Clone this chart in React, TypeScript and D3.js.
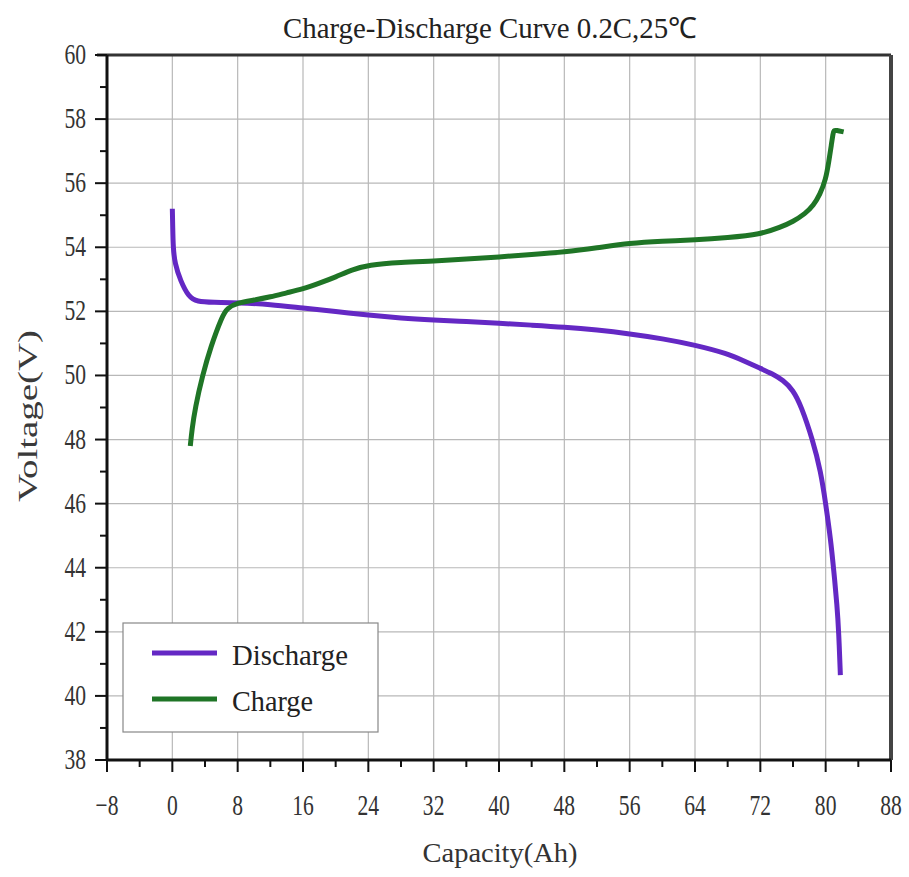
import React from "react";
import * as d3 from "d3";

const TITLE = "Charge-Discharge Curve  0.2C,25℃";
const X_LABEL = "Capacity(Ah)";
const Y_LABEL = "Voltage(V)";
const X_TICKS = [-8, 0, 8, 16, 24, 32, 40, 48, 56, 64, 72, 80, 88];
const X_MINOR = [-4, 4, 12, 20, 28, 36, 44, 52, 60, 68, 76, 84];
const Y_TICKS = [38, 40, 42, 44, 46, 48, 50, 52, 54, 56, 58, 60];
const Y_MINOR = [39, 41, 43, 45, 47, 49, 51, 53, 55, 57, 59];

const dischargeCap = [0, 0, 0.05, 0.1, 0.3, 1.0, 2.0, 3.0, 5, 8, 12, 16, 20, 24, 28, 32, 36, 40, 44, 48, 52, 56, 60, 64, 68, 70, 72, 73.5, 74.8, 76, 77, 78.4, 79.4, 80.0, 80.6, 81.0, 81.4, 81.6, 81.8, 81.8];
const dischargeV = [55.2, 55.2, 54.6, 54.0, 53.5, 52.95, 52.45, 52.3, 52.28, 52.27, 52.22, 52.1, 52.0, 51.88, 51.79, 51.73, 51.68, 51.63, 51.57, 51.51, 51.42, 51.3, 51.15, 50.95, 50.68, 50.45, 50.22, 50.05, 49.85, 49.55, 49.05, 48.0, 47.0, 46.0, 44.9, 43.9, 42.8, 42.0, 40.65, 40.65];

const chargeCap = [2.2, 2.2, 2.4, 2.8, 3.7, 4.7, 6.1, 6.7, 8, 10, 12, 14, 16, 18, 20, 22, 24, 28, 32, 36, 40, 44, 48, 52, 56, 60, 64, 68, 72, 74.5, 76, 77.5, 78.5, 79.3, 80.0, 80.4, 80.7, 80.9, 81.0, 81.3, 82.2, 82.2];
const chargeV = [47.8, 47.8, 48.3, 49.0, 50.0, 50.9, 51.85, 52.1, 52.27, 52.35, 52.45, 52.58, 52.7, 52.88, 53.07, 53.3, 53.45, 53.53, 53.57, 53.63, 53.7, 53.77, 53.85, 53.98, 54.13, 54.19, 54.23, 54.3, 54.4, 54.63, 54.8, 55.05, 55.3, 55.65, 56.1, 56.7, 57.2, 57.55, 57.65, 57.65, 57.6, 57.6];

const SERIES = ["Discharge", "Charge"];
const COLORS = ["#6428c4", "#1f7526"];

export default function App() {
  const W = 909, H = 877;
  const x = d3.scaleLinear().domain([-8, 88]).range([107, 891]);
  const y = d3.scaleLinear().domain([38, 60]).range([760, 55]);
  const line = d3
    .line<[number, number]>()
    .x((d) => x(d[0]))
    .y((d) => y(d[1]))
    .curve(d3.curveBasis);
  const dis: [number, number][] = dischargeCap.map((c, i) => [c, dischargeV[i]]);
  const chg: [number, number][] = chargeCap.map((c, i) => [c, chargeV[i]]);
  const font = "'Liberation Serif', 'Times New Roman', serif";
  const x0 = x(-8), x1 = x(88), y0 = y(38), y1 = y(60);

  return (
    <svg width={W} height={H} style={{ position: "absolute", left: 0, top: 0, background: "#fff" }} fontFamily={font}>
      <rect width={W} height={H} fill="#fff" />
      <text x={490} y={38} fontSize={29} textAnchor="middle" textLength={414} lengthAdjust="spacingAndGlyphs" fill="#222">
        {TITLE}
      </text>
      {/* grid */}
      {Y_TICKS.filter((v) => v > 38 && v < 60).map((v) => (
        <line key={"gy" + v} x1={x0} x2={x1} y1={y(v)} y2={y(v)} stroke="#b8b8b8" strokeWidth={1.2} />
      ))}
      {X_TICKS.filter((v) => v > -8 && v < 88).map((v) => (
        <line key={"gx" + v} x1={x(v)} x2={x(v)} y1={y0} y2={y1} stroke="#b8b8b8" strokeWidth={1.2} />
      ))}
      {/* frame */}
      <line x1={97} x2={x1} y1={y1} y2={y1} stroke="#333" strokeWidth={3} />
      <line x1={x1} x2={x1} y1={y1} y2={y0} stroke="#444" strokeWidth={4} />
      <line x1={x0} x2={x0} y1={y1} y2={y0 + 1} stroke="#111" strokeWidth={3} />
      <line x1={x0 - 1} x2={x1} y1={y0} y2={y0} stroke="#111" strokeWidth={3} />
      {/* y ticks */}
      {Y_TICKS.map((v) => (
        <g key={"yt" + v}>
          <line x1={95} x2={x0} y1={y(v)} y2={y(v)} stroke="#111" strokeWidth={2} />
          <text transform={`translate(86,${y(v) + 9}) scale(0.72,1)`} fontSize={30} textAnchor="end" fill="#333">
            {v}
          </text>
        </g>
      ))}
      {Y_MINOR.map((v) => (
        <line key={"ym" + v} x1={100} x2={x0} y1={y(v)} y2={y(v)} stroke="#111" strokeWidth={2} />
      ))}
      {/* x ticks */}
      {X_TICKS.map((v) => (
        <g key={"xt" + v}>
          <line x1={x(v)} x2={x(v)} y1={y0} y2={y0 + 12} stroke="#111" strokeWidth={2} />
          <text transform={`translate(${x(v)},${y0 + 55}) scale(0.72,1)`} fontSize={30} textAnchor="middle" fill="#333">
            {v < 0 ? "−" + Math.abs(v) : v}
          </text>
        </g>
      ))}
      {X_MINOR.map((v) => (
        <line key={"xm" + v} x1={x(v)} x2={x(v)} y1={y0} y2={y0 + 7} stroke="#111" strokeWidth={2} />
      ))}
      {/* axis titles */}
      <text x={500} y={862} fontSize={28} textAnchor="middle" textLength={155} lengthAdjust="spacingAndGlyphs" fill="#333">
        {X_LABEL}
      </text>
      <text transform={`translate(37,416) rotate(-90)`} fontSize={27} textAnchor="middle" textLength={172} lengthAdjust="spacingAndGlyphs" fill="#3a3a3a">
        {Y_LABEL}
      </text>
      {/* curves */}
      <path d={line(dis) || ""} fill="none" stroke={COLORS[0]} strokeWidth={5} strokeLinejoin="round" />
      <path d={line(chg) || ""} fill="none" stroke={COLORS[1]} strokeWidth={5} strokeLinejoin="round" />
      {/* legend */}
      <rect x={123} y={623} width={255} height={109} fill="#fff" stroke="#888" strokeWidth={1.2} />
      {SERIES.map((s, i) => (
        <g key={s}>
          <line x1={152} x2={217} y1={653 + i * 46} y2={653 + i * 46} stroke={COLORS[i]} strokeWidth={5} />
          <text x={232} y={665 + i * 46} fontSize={29} textLength={i === 0 ? 116 : 81} lengthAdjust="spacingAndGlyphs" fill="#222">
            {s}
          </text>
        </g>
      ))}
    </svg>
  );
}
